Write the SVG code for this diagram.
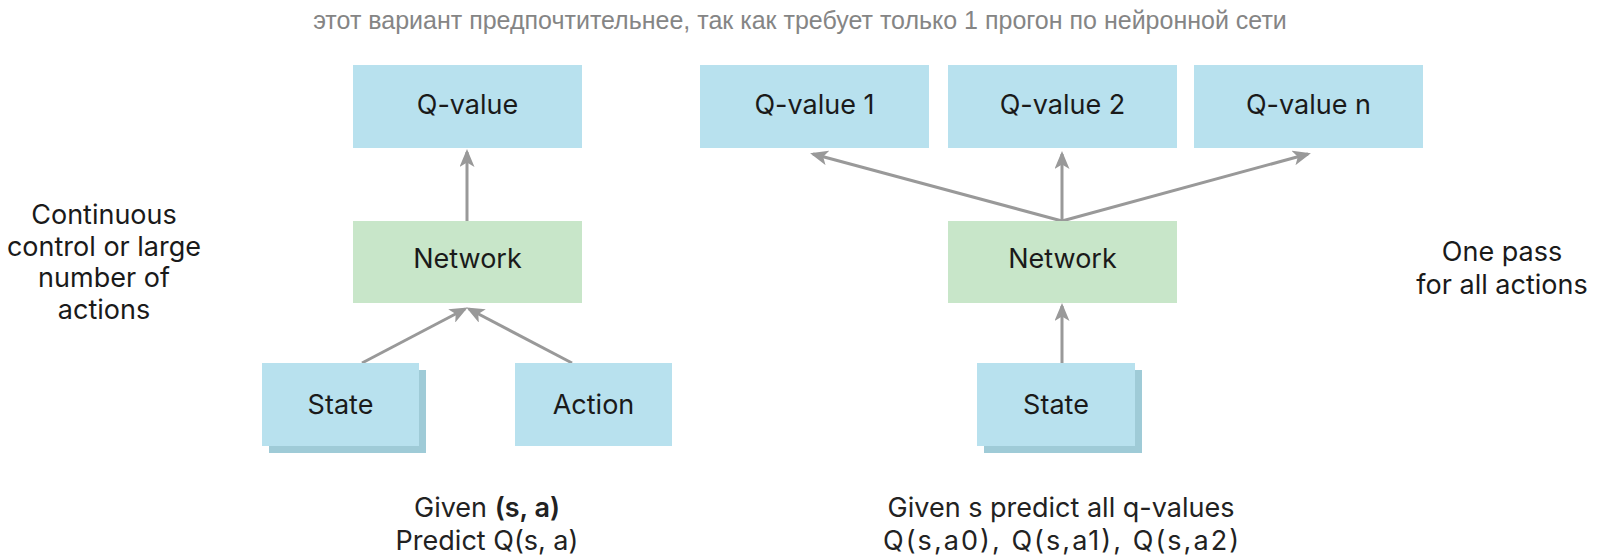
<svg xmlns="http://www.w3.org/2000/svg" width="1600" height="560" viewBox="0 0 1600 560">
<defs>
<style>
.box{fill:#b8e1ee}
.net{fill:#c8e6c9}
.shadow{fill:#9fcbd7}
.lbl{font-family:Inter,"Liberation Sans",sans-serif;font-size:27px;fill:#1a1a1a;text-anchor:middle}
.side{font-family:Inter,"Liberation Sans",sans-serif;font-size:27px;fill:#1a1a1a;text-anchor:middle}
.cap{font-family:Inter,"Liberation Sans",sans-serif;font-size:27px;fill:#222;text-anchor:middle}
.title{font-family:"Liberation Sans",Arial,sans-serif;font-size:25px;fill:#858585;text-anchor:middle}
.conn{stroke:#999;stroke-width:3;fill:none;marker-end:url(#arr)}
</style>
<marker id="arr" viewBox="0 0 12 10" refX="10" refY="5" markerWidth="6" markerHeight="5" orient="auto" markerUnits="strokeWidth">
<path d="M0,0 L12,5 L0,10 L3,5 z" fill="#999"/>
</marker>
</defs>
<rect width="1600" height="560" fill="#fff"/>
<text class="title" x="800" y="29">этот вариант предпочтительнее, так как требует только 1 прогон по нейронной сети</text>

<g id="side-left">
<text class="side" x="104" y="224">Continuous</text>
<text class="side" x="104" y="256">control or large</text>
<text class="side" x="104" y="287">number of</text>
<text class="side" x="104" y="319">actions</text>
</g>
<g id="side-right">
<text class="side" x="1502" y="261">One pass</text>
<text class="side" x="1502" y="294">for all actions</text>
</g>

<g id="connectors">
<line class="conn" x1="467" y1="221" x2="467" y2="152"/>
<line class="conn" x1="362" y1="363" x2="465" y2="309"/>
<line class="conn" x1="572" y1="363" x2="469" y2="309"/>
<line class="conn" x1="1062" y1="221" x2="813" y2="154"/>
<line class="conn" x1="1062" y1="221" x2="1062" y2="154"/>
<line class="conn" x1="1062" y1="221" x2="1308" y2="154"/>
<line class="conn" x1="1062" y1="363" x2="1062" y2="306"/>
</g>

<g id="qvalue-left">
<rect class="box" x="353" y="65" width="229" height="83"/>
<text class="lbl" x="467.5" y="114">Q-value</text>
</g>
<g id="network-left">
<rect class="net" x="353" y="221" width="229" height="82"/>
<text class="lbl" x="467.5" y="268">Network</text>
</g>
<g id="state-left">
<rect class="shadow" x="269" y="370" width="157" height="83"/>
<rect class="box" x="262" y="363" width="157" height="83"/>
<text class="lbl" x="340.5" y="414">State</text>
</g>
<g id="action-left">
<rect class="box" x="515" y="363" width="157" height="83"/>
<text class="lbl" x="593.5" y="414">Action</text>
</g>

<g id="qvalue-1">
<rect class="box" x="700" y="65" width="229" height="83"/>
<text class="lbl" x="814.5" y="114">Q-value 1</text>
</g>
<g id="qvalue-2">
<rect class="box" x="948" y="65" width="229" height="83"/>
<text class="lbl" x="1062.5" y="114">Q-value 2</text>
</g>
<g id="qvalue-n">
<rect class="box" x="1194" y="65" width="229" height="83"/>
<text class="lbl" x="1308.5" y="114">Q-value n</text>
</g>
<g id="network-right">
<rect class="net" x="948" y="221" width="229" height="82"/>
<text class="lbl" x="1062.5" y="268">Network</text>
</g>
<g id="state-right">
<rect class="shadow" x="984" y="370" width="158" height="83"/>
<rect class="box" x="977" y="363" width="158" height="83"/>
<text class="lbl" x="1056" y="414">State</text>
</g>

<g id="caption-left">
<text class="cap" x="487" y="517">Given <tspan font-weight="600">(s, a)</tspan></text>
<text class="cap" x="487" y="550">Predict Q(s, a)</text>
</g>
<g id="caption-right">
<text class="cap" x="1061" y="517">Given s predict all q-values</text>
<text class="cap" x="1061" y="550" textLength="356" lengthAdjust="spacing">Q(s,a0), Q(s,a1), Q(s,a2)</text>
</g>
</svg>
